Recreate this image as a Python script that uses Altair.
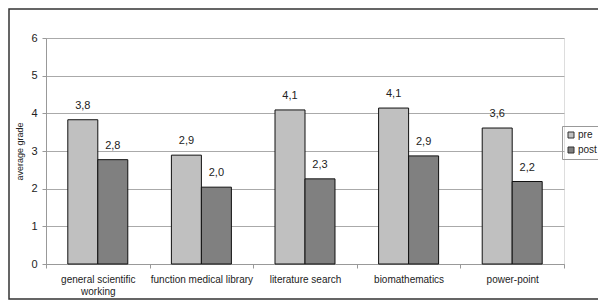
import altair as alt
import pandas as pd

categories = ["general scientific working", "function medical library",
              "literature search", "biomathematics", "power-point"]
series = ["pre", "post"]
pre = [3.83, 2.89, 4.09, 4.14, 3.61]
post = [2.77, 2.04, 2.26, 2.87, 2.19]

rows = []
for c, a, b in zip(categories, pre, post):
    rows.append({"category": c, "series": "pre", "value": a,
                 "label": f"{a:.1f}".replace(".", ",")})
    rows.append({"category": c, "series": "post", "value": b,
                 "label": f"{b:.1f}".replace(".", ",")})
df = pd.DataFrame(rows)

FONT = "Liberation Sans"

yenc = alt.Y("value:Q", scale=alt.Scale(domain=[0, 6], nice=False),
             axis=alt.Axis(title="average grade", values=[0, 1, 2, 3, 4, 5, 6],
                           labelOverlap=False,
                           titleFontSize=9, titleFont=FONT, titleFontWeight="normal",
                           titleColor="#222222", titlePadding=6,
                           labelFontSize=11, labelFont=FONT, labelColor="#222222",
                           labelPadding=5, tickSize=4, tickColor="#999999",
                           domainColor="#999999", gridColor="#aaaaaa"))

base = alt.Chart(df).encode(
    x=alt.X("category:N", sort=categories,
            scale=alt.Scale(paddingInner=0, paddingOuter=0),
            axis=alt.Axis(title=None, labelAngle=0, tickBand="extent",
                          domainColor="#999999", tickColor="#999999", tickSize=4,
                          labelFontSize=10, labelColor="#222222", labelFont=FONT,
                          labelPadding=6, labelLineHeight=12,
                          labelExpr="datum.label == 'general scientific working' ? ['general scientific', 'working'] : datum.label")),
    xOffset=alt.XOffset("series:N", sort=series,
                        scale=alt.Scale(paddingOuter=0.727, paddingInner=0)),
    y=yenc,
)

bars = base.mark_bar(stroke="#111111", strokeWidth=1).encode(
    color=alt.Color("series:N", sort=series,
                    scale=alt.Scale(domain=series, range=["#c0c0c0", "#808080"]),
                    legend=alt.Legend(title=None, orient="none", legendX=516, legendY=88,
                                      strokeColor="#999999", padding=4,
                                      symbolType="square", symbolSize=36,
                                      symbolStrokeColor="#333333", symbolStrokeWidth=1,
                                      labelFontSize=10, labelFont=FONT, labelColor="#222222",
                                      rowPadding=5, labelOffset=2)),
)

labels = base.mark_text(baseline="bottom", dy=-9, fontSize=11, font=FONT,
                        color="#222222").encode(
    text="label:N",
)

frame = alt.Chart(pd.DataFrame({"f": [0]})).mark_rect(
    fill=None, stroke="#333333", strokeWidth=1.5
).encode(
    x=alt.value(-37), x2=alt.value(570),
    y=alt.value(-29), y2=alt.value(261),
)

chart = alt.layer(frame, bars, labels).properties(
    width=518, height=226,
    autosize=alt.AutoSizeParams(type="none"),
    padding={"left": 38, "top": 30, "right": 34, "bottom": 36},
).configure_view(stroke="#999999").configure(background="white")

chart.save("out.html", embed_options={"renderer": "svg", "actions": False})
